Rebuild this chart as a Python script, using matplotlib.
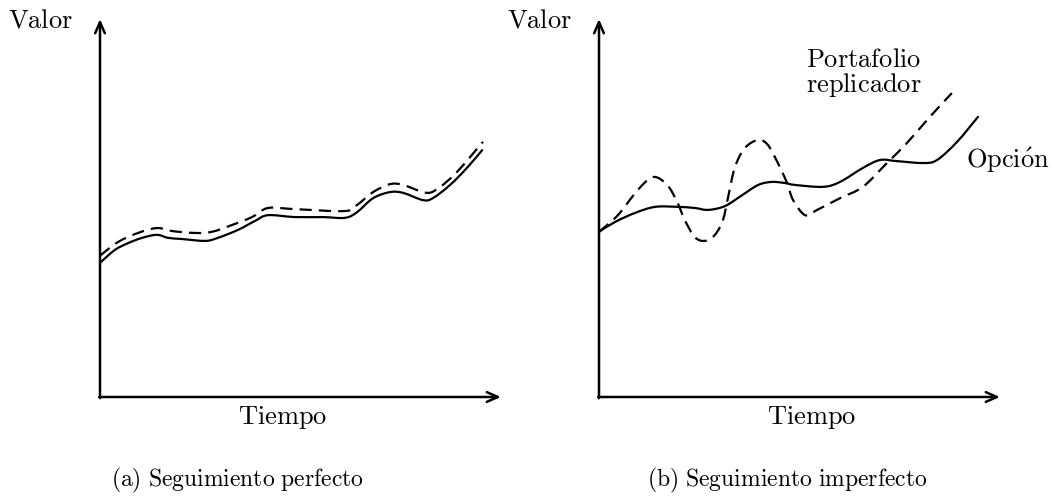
import numpy as np
import matplotlib
matplotlib.use("Agg")
import matplotlib.pyplot as plt
from matplotlib.path import Path
from matplotlib.patches import PathPatch

plt.rcParams["mathtext.fontset"] = "cm"

# (a) seguimiento perfecto: opción (sólida) y portafolio (discontinua)
t_a_opcion = [0.00, 0.37, 0.70, 1.05, 1.42, 1.70, 2.04, 2.62, 2.94, 3.44, 3.87, 4.19,
              4.86, 5.56, 6.11, 6.41, 6.81, 7.23, 7.56, 8.05, 8.30, 8.73, 9.15, 9.53]
v_a_opcion = [3.55, 3.89, 4.07, 4.21, 4.29, 4.21, 4.18, 4.13, 4.21, 4.42, 4.66, 4.81,
              4.76, 4.76, 4.74, 4.89, 5.26, 5.42, 5.40, 5.21, 5.26, 5.61, 6.06, 6.53]
t_a_port = [0.00, 0.45, 0.95, 1.42, 1.80, 2.37, 2.79, 3.29, 3.79, 4.19,
            4.86, 6.11, 6.41, 6.81, 7.23, 7.56, 8.15, 8.48, 8.90, 9.55]
v_a_port = [3.74, 4.10, 4.34, 4.47, 4.39, 4.34, 4.37, 4.55, 4.76, 5.00,
            4.97, 4.92, 5.08, 5.42, 5.63, 5.61, 5.40, 5.56, 5.95, 6.75]

# (b) seguimiento imperfecto
t_b_opcion = [0.00, 0.40, 0.90, 1.40, 1.97, 2.39, 2.72, 3.14, 3.57, 3.97, 4.31, 4.64,
              4.89, 5.59, 6.01, 6.58, 7.01, 7.43, 8.08, 8.43, 8.93, 9.45]
v_b_opcion = [4.37, 4.63, 4.87, 5.03, 5.03, 5.00, 4.95, 5.05, 5.34, 5.61, 5.69, 5.66,
              5.61, 5.56, 5.69, 6.06, 6.27, 6.24, 6.19, 6.27, 6.75, 7.41]
t_b_port = [0.00, 0.47, 0.97, 1.35, 1.70, 1.95, 2.14, 2.39, 2.64,
            2.89, 3.09, 3.22, 3.39, 3.64, 3.97, 4.21, 4.46, 4.69, 4.84,
            5.14, 5.44, 6.01, 6.58, 7.18, 7.68, 8.25, 8.80]
v_b_port = [4.37, 4.81, 5.48, 5.82, 5.61, 5.16, 4.68, 4.23, 4.13,
            4.29, 4.68, 5.29, 6.08, 6.59, 6.80, 6.67, 6.19, 5.66, 5.21,
            4.81, 4.95, 5.26, 5.56, 6.19, 6.72, 7.41, 8.04]

W, H = 1052, 499
fig = plt.figure(figsize=(W / 100, H / 100), dpi=100)

def px(x, y):
    return x / W, 1 - y / H

def smooth_path(t, v):
    # curva suave (tipo "plot[smooth]") con tramos Bezier que pasan por los puntos
    p = np.column_stack([t, v])
    p_ext = np.vstack([p[0], p, p[-1]])
    verts = [p[0]]
    codes = [Path.MOVETO]
    for i in range(len(p) - 1):
        a, b, c, d = p_ext[i], p_ext[i + 1], p_ext[i + 2], p_ext[i + 3]
        verts += [b + (c - a) / 6, c - (d - b) / 6, c]
        codes += [Path.CURVE4] * 3
    return Path(verts, codes)

def make_panel(x0, t_sol, v_sol, t_dash, v_dash):
    # ejes: origen en (x0, 397), flechas 401 px a la derecha y 378 px hacia arriba
    ax = fig.add_axes([x0 / W, (H - 397) / H, 401 / W, 378 / H])
    ax.set_xlim(0, 10)
    ax.set_ylim(0, 10)
    ax.axis("off")
    arr = dict(arrowstyle="->,head_length=0.8,head_width=0.35", lw=1.8,
               color="black", shrinkA=0, shrinkB=0)
    ax.annotate("", xy=(10, 0), xytext=(-0.02, 0), arrowprops=arr, annotation_clip=False)
    ax.annotate("", xy=(0, 10), xytext=(0, -0.03), arrowprops=arr, annotation_clip=False)
    ax.add_patch(PathPatch(smooth_path(t_sol, v_sol), fill=False, ec="black", lw=1.6,
                           joinstyle="round", capstyle="round", clip_on=False))
    ax.add_patch(PathPatch(smooth_path(t_dash, v_dash), fill=False, ec="black", lw=1.6,
                           linestyle=(0, (5.5, 3.2)), clip_on=False))
    return ax

make_panel(100, t_a_opcion, v_a_opcion, t_a_port, v_a_port)
make_panel(599, t_b_opcion, v_b_opcion, t_b_port, v_b_port)

fs = 19
fig.text(*px(41, 28), r"$\mathrm{Valor}$", fontsize=fs, ha="center", va="baseline")
fig.text(*px(540, 28), r"$\mathrm{Valor}$", fontsize=fs, ha="center", va="baseline")
fig.text(*px(283, 424), r"$\mathrm{Tiempo}$", fontsize=fs, ha="center", va="baseline")
fig.text(*px(812, 424), r"$\mathrm{Tiempo}$", fontsize=fs, ha="center", va="baseline")
fig.text(*px(864, 67), r"$\mathrm{Portafolio}$", fontsize=fs, ha="center", va="baseline")
fig.text(*px(864, 92), r"$\mathrm{replicador}$", fontsize=fs, ha="center", va="baseline")
fig.text(*px(1008, 168), r"$\mathrm{Opci\acute{o}n}$", fontsize=fs, ha="center", va="baseline")

fig.text(*px(238, 486), r"$\mathrm{(a)\ Seguimiento\ perfecto}$", fontsize=17,
         ha="center", va="baseline")
fig.text(*px(787, 486), r"$\mathrm{(b)\ Seguimiento\ imperfecto}$", fontsize=17,
         ha="center", va="baseline")

fig.savefig("out.png", dpi=100)
